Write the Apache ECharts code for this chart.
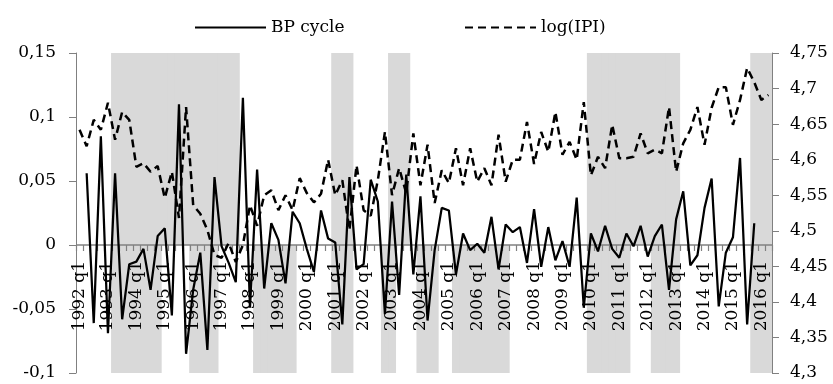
<!DOCTYPE html>
<html>
<head>
<meta charset="utf-8">
<script src="https://cdn.jsdelivr.net/npm/echarts@6/dist/echarts.min.js"></script>
<style>
  html, body { margin: 0; padding: 0; background: #fff; }
  #chart { width: 833px; height: 384px; }
</style>
</head>
<body>
<div id="chart"></div>
<script>
// quarterly labels 1992 q1 .. 2016 q2
const quarters = []
for (let y = 1992; y <= 2016; y++) {
  for (let q = 1; q <= 4; q++) {
    if (y === 2016 && q > 2) break
    quarters.push(y + ' q' + q)
  }
}

// band-pass cycle (left axis), first and last quarters are lost by the filter
const bpCycle = [
  null, 0.056, -0.061, 0.085, -0.069, 0.056, -0.058, -0.015, -0.013, -0.003,
  -0.035, 0.007, 0.013, -0.055, 0.110, -0.085, -0.035, -0.006, -0.082, 0.053,
  -0.001, -0.014, -0.029, 0.115, -0.049, 0.059, -0.034, 0.017, 0.004, -0.030,
  0.026, 0.017, -0.003, -0.021, 0.027, 0.005, 0.002, -0.062, 0.053, -0.019,
  -0.015, 0.051, 0.034, -0.054, 0.034, -0.039, 0.055, -0.023, 0.038, -0.059,
  -0.004, 0.029, 0.027, -0.023, 0.009, -0.004, 0.001, -0.006, 0.022, -0.019,
  0.016, 0.010, 0.014, -0.014, 0.028, -0.017, 0.014, -0.012, 0.003, -0.017,
  0.037, -0.049, 0.009, -0.005, 0.015, -0.003, -0.010, 0.009, -0.001, 0.015,
  -0.009, 0.007, 0.016, -0.035, 0.020, 0.042, -0.016, -0.008, 0.029, 0.052,
  -0.048, -0.006, 0.006, 0.068, -0.062, 0.017, null, null
]

// log of industrial production index (right axis)
const logIPI = [
  4.642, 4.619, 4.656, 4.642, 4.680, 4.628, 4.667, 4.656, 4.590, 4.595,
  4.583, 4.591, 4.546, 4.583, 4.518, 4.674, 4.536, 4.524, 4.501, 4.466,
  4.462, 4.483, 4.456, 4.480, 4.536, 4.507, 4.550, 4.557, 4.529, 4.550,
  4.529, 4.574, 4.553, 4.540, 4.552, 4.600, 4.550, 4.571, 4.501, 4.592,
  4.529, 4.521, 4.571, 4.639, 4.550, 4.588, 4.553, 4.637, 4.564, 4.621,
  4.539, 4.585, 4.567, 4.616, 4.564, 4.616, 4.569, 4.588, 4.564, 4.635,
  4.569, 4.600, 4.600, 4.653, 4.594, 4.639, 4.611, 4.667, 4.607, 4.625,
  4.600, 4.681, 4.578, 4.604, 4.588, 4.649, 4.602, 4.602, 4.604, 4.637,
  4.609, 4.614, 4.609, 4.674, 4.583, 4.623, 4.642, 4.674, 4.621, 4.673,
  4.702, 4.702, 4.649, 4.684, 4.729, 4.709, 4.684, 4.691
]

// shaded periods (upper half and lower half of the plot)
const upperPeriods = [
  ['1993 q2', '1997 q3'], ['2001 q1', '2001 q3'], ['2003 q1', '2003 q3'],
  ['2010 q1', '2013 q1'], ['2015 q4', '2016 q2']
]
const lowerPeriods = [
  ['1993 q2', '1994 q4'], ['1996 q1', '1996 q4'], ['1998 q2', '1999 q3'],
  ['2001 q1', '2001 q3'], ['2002 q4', '2003 q1'], ['2004 q1', '2004 q3'],
  ['2005 q2', '2007 q1'], ['2010 q1', '2011 q2'], ['2012 q2', '2013 q1'],
  ['2015 q4', '2016 q2']
]

const leftMin = -0.1
const leftMax = 0.15

const shadeData = (periods, value) => quarters.map((q, i) => {
  const inside = periods.some(p => i >= quarters.indexOf(p[0]) && i <= quarters.indexOf(p[1]))
  return inside ? value : null
})

const fmt = v => String(+v.toFixed(2)).replace('.', ',')

const font = 'DejaVu Serif'
const axisGray = '#808080'
const shadeGray = '#d9d9d9'

// plot box
const gridTop = 53
const gridBottom = 11
const plotHeight = 384 - gridTop - gridBottom
// the category labels hang from the zero line of the left axis
const zeroOffset = -plotHeight * (0 - leftMin) / (leftMax - leftMin)

// tick at every quarter boundary on the zero line (drawn through the axes' own scales)
const renderZeroTicks = (params, api) => {
  const i = api.value(0)
  const c = api.coord([i, 0])
  const w = api.size([1, 0])[0]
  const xl = Math.round(c[0] - w / 2) + 0.5
  const xr = Math.round(c[0] + w / 2) + 0.5
  const children = [
    { type: 'line', shape: { x1: xl, y1: c[1], x2: xl, y2: c[1] + 6 }, style: { stroke: axisGray, lineWidth: 1.2 } }
  ]
  if (i === quarters.length - 1) {
    children.push({ type: 'line', shape: { x1: xr, y1: c[1], x2: xr, y2: c[1] + 6 }, style: { stroke: axisGray, lineWidth: 1.2 } })
  }
  return { type: 'group', children }
}

const chart = echarts.init(document.getElementById('chart'))
chart.setOption({
  animation: false,
  textStyle: { fontFamily: font },
  legend: [
    {
      data: ['BP cycle'], left: 189, top: 14, itemWidth: 71, itemHeight: 14,
      textStyle: { fontFamily: font, fontSize: 17, color: '#000' }
    },
    {
      data: ['log(IPI)'], left: 459, top: 14, itemWidth: 71, itemHeight: 14,
      textStyle: { fontFamily: font, fontSize: 17, color: '#000' }
    }
  ],
  grid: {
    left: 76, right: 61, top: gridTop, bottom: gridBottom,
    containLabel: false, outerBoundsMode: 'none'
  },
  xAxis: {
    type: 'category',
    data: quarters,
    boundaryGap: true,
    position: 'bottom',
    offset: zeroOffset,
    z: 5,
    axisLine: { show: false, onZero: false },
    axisTick: { show: false },
    axisLabel: {
      interval: 3, rotate: 90, margin: 16,
      fontFamily: font, fontSize: 17, color: '#000'
    },
    splitLine: { show: false }
  },
  yAxis: [
    {
      type: 'value', min: leftMin, max: leftMax, interval: 0.05, z: 5,
      axisLine: { show: true, lineStyle: { color: axisGray } },
      axisTick: { show: true, length: 7, lineStyle: { color: axisGray } },
      axisLabel: { formatter: fmt, margin: 20, fontFamily: font, fontSize: 17, color: '#000' },
      splitLine: { show: false }
    },
    {
      type: 'value', min: 4.3, max: 4.75, interval: 0.05, position: 'right', z: 5,
      axisLine: { show: true, lineStyle: { color: axisGray } },
      axisTick: { show: true, length: 7, lineStyle: { color: axisGray } },
      axisLabel: { formatter: fmt, margin: 18, fontFamily: font, fontSize: 17, color: '#000' },
      splitLine: { show: false }
    }
  ],
  series: [
    {
      name: 'upper shade', type: 'bar', yAxisIndex: 0, silent: true,
      barWidth: 8, barGap: '-100%', z: 1,
      itemStyle: { color: shadeGray },
      data: shadeData(upperPeriods, leftMax)
    },
    {
      name: 'lower shade', type: 'bar', yAxisIndex: 0, silent: true,
      barWidth: 8, barGap: '-100%', z: 1,
      itemStyle: { color: shadeGray },
      data: shadeData(lowerPeriods, leftMin),
      // zero line of the category axis
      markLine: {
        silent: true, symbol: 'none', z: 6,
        label: { show: false },
        lineStyle: { color: axisGray, width: 1.6, type: 'solid' },
        data: [{ yAxis: 0 }]
      }
    },
    {
      name: 'zero ticks', type: 'custom', yAxisIndex: 0, silent: true, z: 6,
      renderItem: renderZeroTicks,
      data: quarters.map((q, i) => [i, 0])
    },
    {
      name: 'BP cycle', type: 'line', yAxisIndex: 0, symbol: 'none', z: 10,
      lineStyle: { color: '#000', width: 2.25 },
      itemStyle: { color: 'transparent' },
      data: bpCycle
    },
    {
      name: 'log(IPI)', type: 'line', yAxisIndex: 1, symbol: 'none', z: 10,
      lineStyle: { color: '#000', width: 2.5, type: [8, 5] },
      itemStyle: { color: 'transparent' },
      data: logIPI
    }
  ]
})
</script>
</body>
</html>
